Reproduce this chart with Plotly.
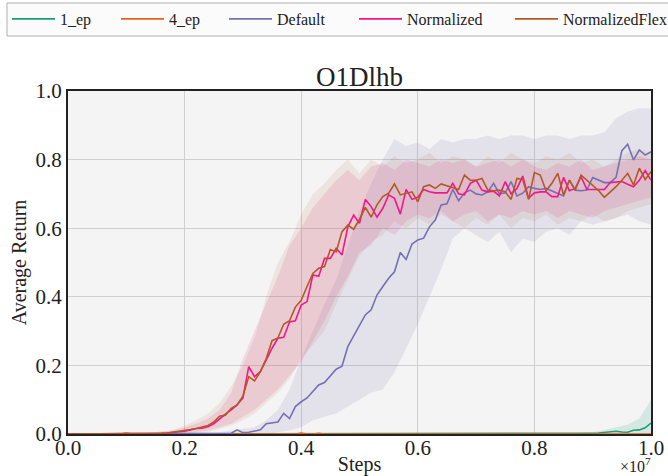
import numpy as np
import plotly.graph_objects as go

# ---------------- data ----------------
series_names = ["1_ep", "4_ep", "Default", "Normalized", "NormalizedFlex"]

one_ep = [0.0, 0.0, 0.0, 0.0, 0.0, 0.0, 0.0, 0.0, 0.0, 0.0,
          0.0, 0.0, 0.0, 0.0, 0.0, 0.0, 0.0, 0.0, 0.0, 0.0,
          0.0, 0.0, 0.0, 0.0, 0.0, 0.0, 0.0, 0.0, 0.0, 0.0,
          0.0, 0.0, 0.0, 0.0, 0.0, 0.0, 0.0, 0.0, 0.0, 0.0,
          0.0, 0.0, 0.0, 0.0, 0.0, 0.0, 0.0, 0.0, 0.0, 0.0,
          0.0, 0.0, 0.0, 0.0, 0.0, 0.0, 0.0, 0.0, 0.0, 0.0,
          0.0, 0.0, 0.0, 0.0, 0.0, 0.0, 0.0, 0.0, 0.0, 0.002,
          0.001, 0.0, 0.0, 0.0, 0.0, 0.0, 0.002, 0.001, 0.0, 0.0,
          0.0, 0.0, 0.0, 0.0, 0.0, 0.0, 0.0, 0.0, 0.001, 0.002,
          0.002, 0.003, 0.004, 0.007, 0.008, 0.006, 0.005, 0.011, 0.012, 0.018,
          0.032]

four_ep = [0.0, 0.0, 0.0, 0.0, 0.0, 0.002, 0.0, 0.0, 0.0, 0.0,
           0.003, 0.0, 0.0, 0.0, 0.0, 0.0, 0.002, 0.0, 0.0, 0.0,
           0.0, 0.0, 0.002, 0.0, 0.0, 0.0, 0.0, 0.0, 0.0, 0.0,
           0.0, 0.0, 0.0, 0.0, 0.0, 0.0, 0.0, 0.0, 0.0, 0.0,
           0.003, 0.0, 0.0, 0.002, 0.0, 0.0, 0.0, 0.0, 0.0, 0.0,
           0.002, 0.0, 0.0, 0.0, 0.0, 0.002, 0.0, 0.0, 0.0, 0.0,
           0.0, 0.0, 0.0, 0.0, 0.0, 0.0, 0.0, 0.0, 0.0, 0.0,
           0.0, 0.0, 0.0, 0.0, 0.0, 0.0, 0.0, 0.002, 0.0, 0.0,
           0.002, 0.0, 0.0, 0.0, 0.0, 0.0, 0.0, 0.0, 0.0, 0.0,
           0.0, 0.0, 0.0, 0.0, 0.0, 0.0, 0.0, 0.002, 0.0, 0.0,
           0.0]

default = [0.0, 0.0, 0.0, 0.0, 0.0, 0.0, 0.0, 0.0, 0.0, 0.0,
           0.0, 0.0, 0.0, 0.0, 0.0, 0.0, 0.0, 0.0, 0.0, 0.0,
           0.0, 0.0, 0.0, 0.0, 0.0, 0.0, 0.0, 0.0, 0.002, 0.012,
           0.004, 0.005, 0.008, 0.012, 0.03, 0.033, 0.035, 0.06, 0.045, 0.08,
           0.094, 0.105, 0.123, 0.143, 0.15, 0.17, 0.189, 0.198, 0.255, 0.286,
           0.315, 0.347, 0.362, 0.405, 0.43, 0.454, 0.473, 0.529, 0.509, 0.554,
           0.566, 0.571, 0.604, 0.624, 0.668, 0.671, 0.713, 0.68, 0.703, 0.711,
           0.70, 0.697, 0.706, 0.731, 0.70, 0.703, 0.736, 0.694, 0.702, 0.721,
           0.716, 0.713, 0.716, 0.709, 0.703, 0.694, 0.74, 0.711, 0.709, 0.711,
           0.748, 0.74, 0.733, 0.733, 0.748, 0.826, 0.845, 0.799, 0.828, 0.813,
           0.823]

normalized = [0.0, 0.0, 0.0, 0.0, 0.0, 0.0, 0.0, 0.0, 0.0, 0.0,
              0.0, 0.0, 0.0, 0.0, 0.0, 0.001, 0.002, 0.003, 0.004, 0.005,
              0.008, 0.012, 0.016, 0.017, 0.021, 0.03, 0.045, 0.058, 0.07, 0.085,
              0.105, 0.196, 0.167, 0.182, 0.216, 0.25, 0.279, 0.282, 0.327, 0.33,
              0.376, 0.386, 0.464, 0.46, 0.512, 0.512, 0.541, 0.522, 0.604, 0.638,
              0.614, 0.684, 0.663, 0.632, 0.658, 0.697, 0.687, 0.641, 0.713, 0.684,
              0.69, 0.713, 0.706, 0.703, 0.703, 0.703, 0.731, 0.70, 0.697, 0.731,
              0.74, 0.711, 0.706, 0.708, 0.694, 0.736, 0.70, 0.716, 0.752, 0.687,
              0.703, 0.706, 0.706, 0.692, 0.692, 0.748, 0.709, 0.716, 0.75, 0.713,
              0.713, 0.713, 0.713, 0.733, 0.735, 0.736, 0.728, 0.721, 0.74, 0.768,
              0.74]

normalized_flex = [0.0, 0.0, 0.0, 0.0, 0.0, 0.0, 0.0, 0.0, 0.0, 0.0,
                   0.0, 0.0, 0.0, 0.0, 0.0, 0.001, 0.002, 0.003, 0.005, 0.007,
                   0.01, 0.013, 0.016, 0.02, 0.025, 0.035, 0.052, 0.055, 0.075, 0.085,
                   0.11, 0.167, 0.155, 0.182, 0.22, 0.272, 0.28, 0.32, 0.33, 0.37,
                   0.39, 0.43, 0.468, 0.483, 0.488, 0.538, 0.531, 0.59, 0.609, 0.597,
                   0.626, 0.661, 0.632, 0.668, 0.692, 0.702, 0.729, 0.697, 0.702, 0.706,
                   0.677, 0.721, 0.726, 0.716, 0.729, 0.724, 0.719, 0.713, 0.755, 0.74,
                   0.74, 0.745, 0.711, 0.709, 0.711, 0.706, 0.684, 0.745, 0.742, 0.684,
                   0.762, 0.755, 0.709, 0.731, 0.76, 0.697, 0.74, 0.711, 0.755, 0.74,
                   0.726, 0.71, 0.69, 0.705, 0.721, 0.74, 0.76, 0.726, 0.775, 0.742,
                   0.765]

# shaded bands, sampled every 0.02e7 steps
one_ep_hi = [0.0, 0.0, 0.0, 0.0, 0.0, 0.0, 0.0, 0.0, 0.0, 0.0,
             0.0, 0.0, 0.0, 0.0, 0.0, 0.0, 0.0, 0.0, 0.0, 0.0,
             0.0, 0.0, 0.0, 0.0, 0.0, 0.0, 0.0, 0.0, 0.0, 0.0,
             0.0, 0.0, 0.0, 0.0, 0.004, 0.002, 0.0, 0.0, 0.004, 0.002,
             0.0, 0.0, 0.0, 0.0, 0.004, 0.006, 0.012, 0.02, 0.028, 0.045,
             0.10]
one_ep_lo = [0.0] * 51

default_hi = [0.0, 0.0, 0.0, 0.0, 0.0, 0.0, 0.0, 0.0, 0.0, 0.002,
              0.003, 0.004, 0.005, 0.005, 0.01, 0.015, 0.02, 0.04, 0.07, 0.13,
              0.22, 0.30, 0.38, 0.45, 0.55, 0.65, 0.73, 0.80, 0.86, 0.84,
              0.85, 0.83, 0.86, 0.85, 0.86, 0.86, 0.87, 0.86, 0.87, 0.87,
              0.86, 0.87, 0.87, 0.86, 0.87, 0.87, 0.88, 0.92, 0.94, 0.95,
              0.95]
default_lo = [0.0, 0.0, 0.0, 0.0, 0.0, 0.0, 0.0, 0.0, 0.0, 0.0,
              0.0, 0.0, 0.0, 0.0, 0.0, 0.0, 0.0, 0.0, 0.005, 0.01,
              0.02, 0.04, 0.05, 0.06, 0.08, 0.10, 0.12, 0.13, 0.18, 0.25,
              0.32, 0.40, 0.48, 0.57, 0.60, 0.58, 0.56, 0.59, 0.53, 0.57,
              0.56, 0.59, 0.60, 0.58, 0.62, 0.61, 0.62, 0.63, 0.64, 0.62,
              0.61]

normalized_hi = [0.0, 0.0, 0.0, 0.0, 0.0, 0.0, 0.002, 0.004, 0.006, 0.01,
                 0.02, 0.03, 0.045, 0.07, 0.12, 0.22, 0.30, 0.38, 0.46, 0.55,
                 0.60, 0.66, 0.70, 0.74, 0.77, 0.74, 0.78, 0.79, 0.77, 0.80,
                 0.79, 0.78, 0.80, 0.79, 0.80, 0.78, 0.79, 0.80, 0.78, 0.80,
                 0.78, 0.77, 0.79, 0.78, 0.80, 0.77, 0.78, 0.79, 0.80, 0.81,
                 0.80]
normalized_lo = [0.0, 0.0, 0.0, 0.0, 0.0, 0.0, 0.0, 0.0, 0.0, 0.0,
                 0.0, 0.005, 0.01, 0.02, 0.03, 0.05, 0.07, 0.10, 0.13, 0.17,
                 0.21, 0.27, 0.33, 0.40, 0.46, 0.53, 0.55, 0.60, 0.58, 0.62,
                 0.64, 0.63, 0.65, 0.62, 0.64, 0.65, 0.62, 0.64, 0.63, 0.65,
                 0.64, 0.65, 0.63, 0.65, 0.64, 0.63, 0.65, 0.66, 0.67, 0.68,
                 0.69]

flex_hi = [0.0, 0.0, 0.0, 0.0, 0.0, 0.0, 0.002, 0.004, 0.008, 0.012,
           0.025, 0.04, 0.06, 0.09, 0.14, 0.20, 0.28, 0.40, 0.50, 0.56,
           0.64, 0.70, 0.73, 0.77, 0.80, 0.76, 0.80, 0.78, 0.81, 0.79,
           0.80, 0.82, 0.79, 0.81, 0.80, 0.78, 0.81, 0.79, 0.82, 0.80,
           0.79, 0.81, 0.80, 0.82, 0.79, 0.80, 0.78, 0.80, 0.82, 0.83,
           0.82]
flex_lo = [0.0, 0.0, 0.0, 0.0, 0.0, 0.0, 0.0, 0.0, 0.0, 0.0,
           0.0, 0.0, 0.005, 0.015, 0.025, 0.04, 0.06, 0.09, 0.12, 0.16,
           0.22, 0.26, 0.30, 0.38, 0.45, 0.52, 0.56, 0.58, 0.62, 0.60,
           0.63, 0.61, 0.64, 0.62, 0.60, 0.63, 0.61, 0.64, 0.60, 0.63,
           0.62, 0.64, 0.61, 0.63, 0.62, 0.64, 0.62, 0.63, 0.65, 0.66,
           0.67]

x_tick_vals = [0, 2e6, 4e6, 6e6, 8e6, 1e7]
x_tick_text = ["0.0", "0.2", "0.4", "0.6", "0.8", "1.0"]
y_tick_vals = [0.0, 0.2, 0.4, 0.6, 0.8, 1.0]
y_tick_text = ["0.0", "0.2", "0.4", "0.6", "0.8", "1.0"]

# ---------------- styling ----------------
W, H = 668, 476
ML, MR, MT, MB = 68, 17, 91, 42
PW, PH = W - ML - MR, H - MT - MB

colors = ["#1b9e77", "#e8601c", "#7570b3", "#f5158c", "#b05a26"]
band_fill = ["rgba(27,158,119,0.14)", "rgba(232,96,28,0.13)",
             "rgba(117,112,179,0.13)", "rgba(231,41,138,0.13)",
             "rgba(176,90,38,0.10)"]
FONT = "Liberation Serif"
TXT = "#222222"

# legend entry left positions (px) in the page
legend_px = [7, 116, 224, 354, 510]
legend_ids = ["legend", "legend2", "legend3", "legend4", "legend5"]

steps = np.linspace(0, 1e7, len(normalized))
band_steps = np.linspace(0, 1e7, len(default_hi))

fig = go.Figure()

bands = [(one_ep_hi, one_ep_lo, 0), (default_hi, default_lo, 2),
         (normalized_hi, normalized_lo, 3), (flex_hi, flex_lo, 4)]
for hi, lo, ci in bands:
    fig.add_trace(go.Scatter(
        x=list(band_steps) + list(band_steps[::-1]),
        y=list(hi) + list(lo[::-1]),
        fill="toself", fillcolor=band_fill[ci],
        line=dict(width=0), mode="lines",
        hoverinfo="skip", showlegend=False))

for name, vals, col, lg in zip(series_names,
                               [one_ep, four_ep, default, normalized, normalized_flex],
                               colors, legend_ids):
    fig.add_trace(go.Scatter(
        x=steps, y=vals, mode="lines", name=name, legend=lg,
        line=dict(color=col, width=1.6)))

layout_legends = {}
for lg, px in zip(legend_ids, legend_px):
    layout_legends[lg] = dict(
        orientation="h", xref="container", yref="container",
        x=px / W, y=1 - 19 / H, xanchor="left", yanchor="middle",
        bgcolor="rgba(0,0,0,0)", borderwidth=0,
        font=dict(size=16, family=FONT, color=TXT), itemwidth=43)

fig.update_layout(
    width=W, height=H,
    margin=dict(l=ML, r=MR, t=MT, b=MB, autoexpand=False),
    paper_bgcolor="white",
    plot_bgcolor="#f4f4f4",
    font=dict(family=FONT, color=TXT),
    title=dict(text="O1Dlhb", x=(ML + PW / 2) / W, xanchor="center",
               y=1 - 77 / H, yanchor="middle",
               font=dict(size=27, family=FONT, color=TXT)),
    showlegend=True,
    **layout_legends,
)

# legend frame
fig.add_shape(type="rect", xref="paper", yref="paper", layer="below",
              x0=(7 - ML) / PW, x1=(672 - ML) / PW,
              y0=(H - MB - 36) / PH, y1=(H - MB - 3) / PH,
              line=dict(color="#b0b0b0", width=1), fillcolor="#fbfbfb")

fig.update_xaxes(range=[0, 1e7], tickvals=x_tick_vals, ticktext=x_tick_text,
                 showgrid=True, gridcolor="#cfcfcf", gridwidth=1,
                 showline=True, linecolor=TXT, linewidth=2, mirror=True,
                 zeroline=False, ticks="", automargin=False, ticklabelstandoff=-6,
                 tickfont=dict(size=21, family=FONT, color=TXT),
                 title=dict(text="Steps", font=dict(size=20, family=FONT, color=TXT),
                            standoff=0))
fig.update_yaxes(range=[0, 1], tickvals=y_tick_vals, ticktext=y_tick_text,
                 showgrid=True, gridcolor="#cfcfcf", gridwidth=1,
                 showline=True, linecolor=TXT, linewidth=2, mirror=True,
                 zeroline=False, ticks="", automargin=False,
                 tickfont=dict(size=21, family=FONT, color=TXT),
                 title=dict(text="Average Return", font=dict(size=20, family=FONT, color=TXT),
                            standoff=4))

fig.add_annotation(text="×10<sup>7</sup>", xref="paper", yref="paper",
                   x=(653 - ML) / PW, y=-(453 - (H - MB)) / PH,
                   xanchor="right", yanchor="top", showarrow=False,
                   font=dict(size=16, family=FONT, color=TXT))

fig.write_html("out.html",
               config={"displayModeBar": False},
               post_script="document.documentElement.style.margin='0';"
                           "document.body.style.margin='0';"
                           "document.body.style.overflow='hidden';")
